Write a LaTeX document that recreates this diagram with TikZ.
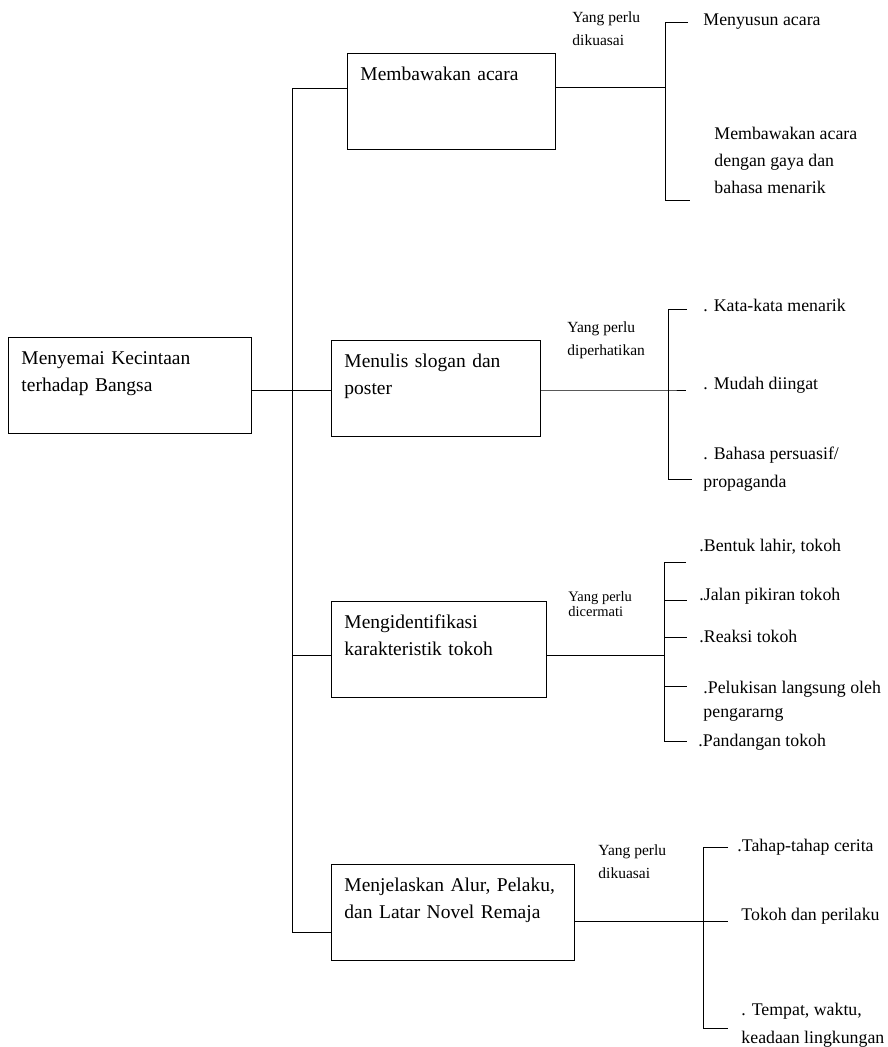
\documentclass[tikz,border=0pt]{standalone}
\usepackage{fontspec}
\setmainfont{Liberation Serif}
\tikzset{
  topic/.style={draw, line width=0.9pt, anchor=north west, align=left,
    inner xsep=13pt, inner ysep=14pt, text height=13pt, text depth=55pt,
    font=\fontsize{19.5}{27}\selectfont},
  point/.style={anchor=base west, align=left, inner sep=0pt,
    font=\fontsize{17.8}{27}\selectfont},
  note/.style={anchor=base west, align=left, inner sep=0pt,
    font=\fontsize{15.5}{23}\selectfont},
}
\begin{document}
\begin{tikzpicture}[x=1pt, y=-1pt, line width=0.9pt]
  \useasboundingbox (0,0) rectangle (887,1047);
  \node[topic, text width=217pt] (root) at (8,337) {Menyemai Kecintaan\\terhadap Bangsa};
  \node[topic, text width=182pt] (acara) at (347,53) {Membawakan acara};
  \node[topic, text width=183pt] (slogan) at (331,340) {Menulis slogan dan\\poster};
  \node[topic, text width=189pt] (tokoh) at (331,601) {Mengidentifikasi\\karakteristik tokoh};
  \node[topic, text width=217pt] (novel) at (331,864) {Menjelaskan Alur, Pelaku,\\dan Latar Novel Remaja};

  % multi-line texts sit on the baseline of their last line
  \node[note] (n1) at (572,45) {Yang perlu\\dikuasai};
  \node[point] (p11) at (703,25) {Menyusun acara};
  \node[point] (p12) at (714,193) {Membawakan acara\\dengan gaya dan\\bahasa menarik};

  \node[note] (n2) at (567,355) {Yang perlu\\diperhatikan};
  \node[point] (p21) at (703,311) {. Kata-kata menarik};
  \node[point] (p22) at (703,389) {. Mudah diingat};
  \node[point, font=\fontsize{17.8}{28}\selectfont] (p23) at (703,487) {. Bahasa persuasif/\\propaganda};

  \node[note, font=\fontsize{14.5}{13}\selectfont] (n3) at (568,616) {Yang perlu\\dicermati};
  \node[point] (p31) at (699,551) {.Bentuk lahir, tokoh};
  \node[point] (p32) at (699,600) {.Jalan pikiran tokoh};
  \node[point] (p33) at (699,642) {.Reaksi tokoh};
  \node[point, font=\fontsize{17.8}{24}\selectfont] (p34) at (703,717) {.Pelukisan langsung oleh\\pengararng};
  \node[point] (p35) at (698,746) {.Pandangan tokoh};

  \node[note] (n4) at (598,878) {Yang perlu\\dikuasai};
  \node[point] (p41) at (737,851) {.Tahap-tahap cerita};
  \node[point] (p42) at (741,920) {Tokoh dan perilaku};
  \node[point, font=\fontsize{17.8}{28}\selectfont] (p43) at (741,1043) {. Tempat, waktu,\\keadaan lingkungan};

  \coordinate (t1) at (292,88);
  \coordinate (t2) at (292,390);
  \coordinate (t3) at (292,655);
  \coordinate (t4) at (292,932);
  \coordinate (k1) at (665,87);
  \coordinate (k1a) at (665,22);
  \coordinate (k1b) at (665,200);
  \coordinate (k2) at (668,390);
  \coordinate (k2a) at (668,309);
  \coordinate (k2b) at (668,479);
  \coordinate (k3) at (664,655);
  \coordinate (k3a) at (664,562);
  \coordinate (k3b) at (664,741);
  \coordinate (k4) at (703,921);
  \coordinate (k4a) at (703,847);
  \coordinate (k4b) at (703,1028);

  \begin{scope}[-]
    \draw (t1) -- (t4);
    \draw (t1) -- (t1 -| acara.west);
    \draw (t2 -| root.east) -- (t2 -| slogan.west);
    \draw (t3) -- (t3 -| tokoh.west);
    \draw (t4) -- (t4 -| novel.west);

    \draw (k1 -| acara.east) -- (k1);
    \draw (k1a) ++(23,0) -- (k1a) -- (k1b) -- ++(25,0);

    \draw (k2 -| slogan.east) -- (k2) -- ++(18,0);
    \draw (k2a) ++(19,0) -- (k2a) -- (k2b) -- ++(24,0);

    \draw (k3 -| tokoh.east) -- (k3);
    \draw (k3a) ++(22,0) -- (k3a) -- (k3b) -- ++(23,0);
    \foreach \y in {600,637,686}
      \draw (664,\y) -- ++(23,0);

    \draw (k4 -| novel.east) -- (k4) -- ++(25,0);
    \draw (k4a) ++(25,0) -- (k4a) -- (k4b) -- ++(25,0);
  \end{scope}
\end{tikzpicture}
\end{document}
